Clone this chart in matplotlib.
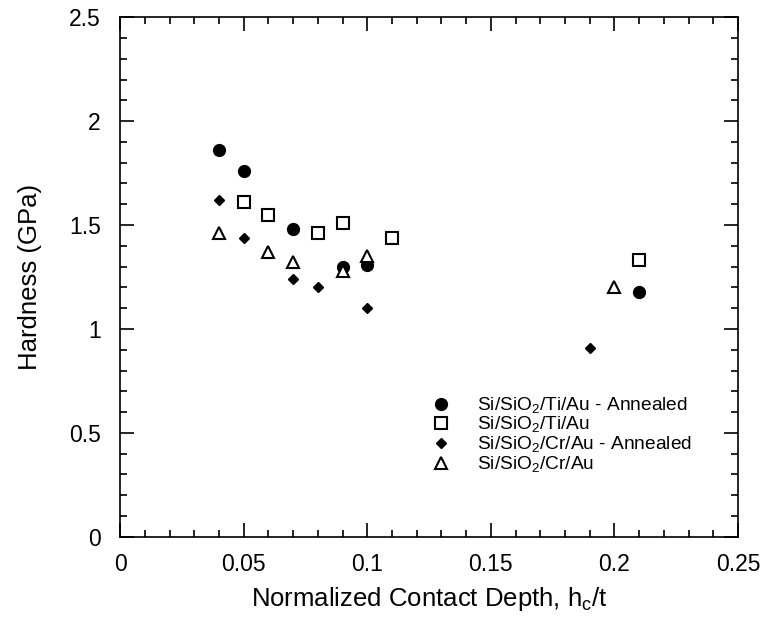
import matplotlib.pyplot as plt
from matplotlib.ticker import MultipleLocator

plt.rcParams['font.family'] = ['Liberation Sans', 'DejaVu Sans']
plt.rcParams['mathtext.fontset'] = 'custom'
plt.rcParams['mathtext.rm'] = 'Liberation Sans'

# datos
x_ti_ann = [0.04, 0.05, 0.07, 0.09, 0.10, 0.21]
h_ti_ann = [1.86, 1.76, 1.48, 1.30, 1.31, 1.18]

x_ti = [0.05, 0.06, 0.08, 0.09, 0.11, 0.21]
h_ti = [1.61, 1.55, 1.46, 1.51, 1.44, 1.33]

x_cr_ann = [0.04, 0.05, 0.07, 0.08, 0.10, 0.19]
h_cr_ann = [1.62, 1.44, 1.24, 1.20, 1.10, 0.91]

x_cr = [0.04, 0.06, 0.07, 0.09, 0.10, 0.20]
h_cr = [1.46, 1.37, 1.32, 1.28, 1.35, 1.20]

xticks = [0, 0.05, 0.1, 0.15, 0.2, 0.25]
xtick_labels = ['0', '0.05', '0.1', '0.15', '0.2', '0.25']
yticks = [0, 0.5, 1, 1.5, 2, 2.5]
ytick_labels = ['0', '0.5', '1', '1.5', '2', '2.5']

etiquetas = [r'Si/SiO$_\mathregular{2}$/Ti/Au - Annealed',
             r'Si/SiO$_\mathregular{2}$/Ti/Au',
             r'Si/SiO$_\mathregular{2}$/Cr/Au - Annealed',
             r'Si/SiO$_\mathregular{2}$/Cr/Au']

fig = plt.figure(figsize=(7.6, 6.39), dpi=100)
ax = fig.add_axes([0.158, 0.160, 0.813, 0.813])

ax.plot(x_ti_ann, h_ti_ann, 'o', color='black', ms=8.5, label=etiquetas[0])
ax.plot(x_ti, h_ti, 's', mfc='white', mec='black', mew=1.5, ms=9, label=etiquetas[1])
ax.plot(x_cr_ann, h_cr_ann, 'D', color='black', ms=5.5, label=etiquetas[2])
ax.plot(x_cr, h_cr, '^', mfc='white', mec='black', mew=1.5, ms=9, label=etiquetas[3])

ax.set_xticks(xticks)
ax.set_xticklabels(xtick_labels)
ax.set_yticks(yticks)
ax.set_yticklabels(ytick_labels)
ax.xaxis.set_minor_locator(MultipleLocator(0.01))
ax.yaxis.set_minor_locator(MultipleLocator(0.1))
ax.set_xlim(0, 0.25)
ax.set_ylim(0, 2.5)
ax.tick_params(which='both', direction='in', top=True, right=True, labelsize=16.5, width=1.2)
ax.tick_params(which='major', length=10)
ax.tick_params(axis='x', which='major', pad=12)
ax.tick_params(axis='y', which='major', pad=14)
ax.tick_params(which='minor', length=5)
for s in ax.spines.values():
    s.set_linewidth(1.2)

ax.set_xlabel(r'Normalized Contact Depth, h$_\mathregular{c}$/t', fontsize=18.5, labelpad=6)
ax.set_ylabel('Hardness (GPa)', fontsize=18.5, labelpad=19)

ax.legend(loc='lower right', bbox_to_anchor=(0.938, 0.105), frameon=False, fontsize=13.8,
          handletextpad=1.1, labelspacing=-0.04, handlelength=1.5, borderaxespad=0)

plt.savefig('out.png', dpi=100)
